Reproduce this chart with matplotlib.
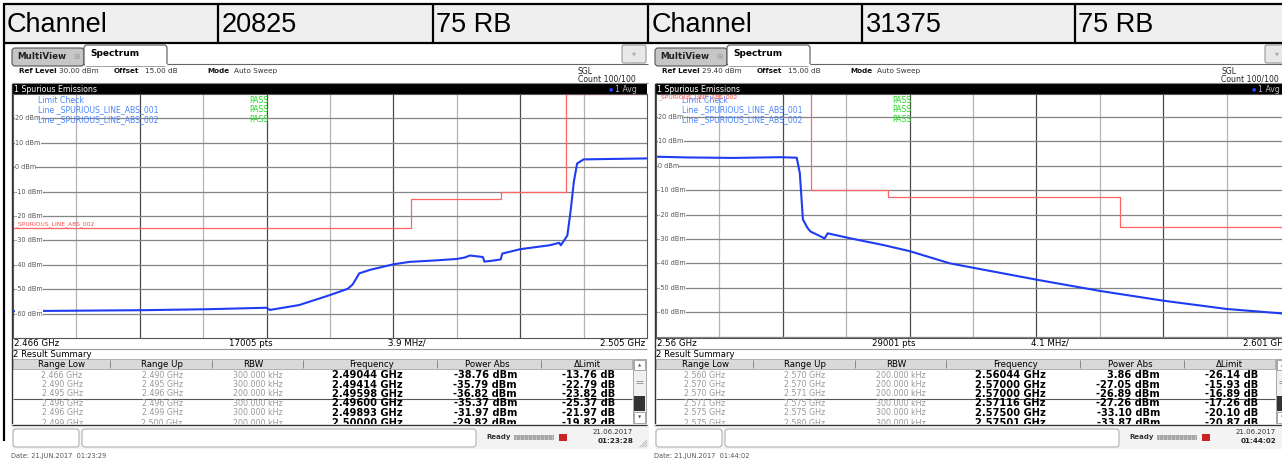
import matplotlib.pyplot as plt
from matplotlib.patches import Rectangle, FancyBboxPatch

W, H = 1282, 461
plt.rcParams['font.family'] = 'DejaVu Sans'

# report table row above the two screenshots
head_cells = ['Channel', '20825', '75 RB', 'Channel', '31375', '75 RB']
head_lines = [3.5, 218, 433, 648, 862, 1075]

# left screen (channel 20825)
left_ref = 30.0
left_span = (2.466, 2.505)
left_freq = [2.4660, 2.4700, 2.4740, 2.4780, 2.4816, 2.4818, 2.4836, 2.4855, 2.4866, 2.4869,
             2.4873, 2.4880, 2.4894, 2.4904, 2.4920, 2.4933, 2.4938, 2.4941, 2.4949, 2.4950,
             2.4955, 2.4960, 2.4961, 2.4972, 2.4990, 2.4996, 2.4997, 2.4999, 2.5001, 2.5003,
             2.5005, 2.5007, 2.5011, 2.5030, 2.5050]
left_level = [-59.0, -58.8, -58.6, -58.2, -57.6, -58.5, -56.5, -52.4, -49.8, -48.0,
              -43.5, -42.0, -39.8, -38.8, -38.2, -37.6, -37.0, -36.2, -36.8, -38.7,
              -38.3, -37.8, -35.4, -33.6, -32.0, -31.0, -32.0, -30.0, -28.0, -18.0,
              -6.0, 1.5, 3.2, 3.4, 3.6]
left_lim_f = [2.466, 2.4905, 2.4905, 2.496, 2.496, 2.500, 2.500, 2.505]
left_lim_v = [-25, -25, -13, -13, -10, -10, 29.8, 29.8]
left_lo = [2.466, 2.490, 2.495, 2.496, 2.496, 2.499]
left_up = [2.490, 2.495, 2.496, 2.496, 2.499, 2.500]
left_rbw = [300, 300, 200, 300, 300, 200]
left_pk = [2.49044, 2.49414, 2.49598, 2.49600, 2.49893, 2.50000]
left_pwr = [-38.76, -35.79, -36.82, -35.37, -31.97, -29.82]
left_dlim = [-13.76, -22.79, -23.82, -25.37, -21.97, -19.82]

# right screen (channel 31375)
right_ref = 29.4
right_span = (2.560, 2.601)
right_freq = [2.5600, 2.5620, 2.5650, 2.5680, 2.5691, 2.5693, 2.5695, 2.5698, 2.5700, 2.5705,
              2.5709, 2.5711, 2.5726, 2.5747, 2.5764, 2.5790, 2.5810, 2.5847, 2.5887, 2.5928,
              2.5969, 2.6010]
right_level = [3.7, 3.4, 3.2, 3.5, 3.3, -3.0, -22.0, -25.5, -27.0, -28.5,
               -29.8, -27.7, -29.8, -32.5, -35.0, -40.0, -42.4, -46.8, -51.3, -55.3,
               -58.7, -60.8]
right_lim_f = [2.560, 2.570, 2.570, 2.575, 2.575, 2.590, 2.590, 2.601]
right_lim_v = [40, 40, -10, -10, -13, -13, -25, -25]
right_lo = [2.560, 2.570, 2.570, 2.571, 2.575, 2.575]
right_up = [2.570, 2.570, 2.571, 2.575, 2.575, 2.580]
right_rbw = [200, 200, 200, 300, 300, 300]
right_pk = [2.56044, 2.57000, 2.57000, 2.57116, 2.57500, 2.57501]
right_pwr = [3.86, -27.05, -26.89, -27.26, -33.10, -33.87]
right_dlim = [-26.14, -15.93, -16.89, -17.26, -20.10, -20.87]

col_names = ['Range Low', 'Range Up', 'RBW', 'Frequency', 'Power Abs', 'ΔLimit']
col_head_x = [62, 162, 253, 372, 487, 587]
col_sep_x = [110, 212, 303, 437, 541]
row_y = [375.3, 384.6, 393.9, 403.2, 412.5, 423.0]

fig = plt.figure(figsize=(W / 100, H / 100), dpi=100)
bg = fig.add_axes([0, 0, 1, 1], zorder=0)
fg = fig.add_axes([0, 0, 1, 1], zorder=5)
for a in (bg, fg):
    a.set_xlim(0, W)
    a.set_ylim(H, 0)
    a.axis('off')


def box(ax, x0, y0, x1, y1, fc, ec='none', lw=0.8, z=1, r=0):
    if r:
        p = FancyBboxPatch((x0, y0), x1 - x0, y1 - y0, boxstyle=f'round,pad=0,rounding_size={r}',
                           fc=fc, ec=ec, lw=lw, zorder=z)
    else:
        p = Rectangle((x0, y0), x1 - x0, y1 - y0, fc=fc, ec=ec, lw=lw, zorder=z)
    ax.add_patch(p)


def txt(ax, x, y, s, size, color='black', weight='normal', ha='left', z=3, **kw):
    ax.text(x, y, s, fontsize=size, color=color, fontweight=weight, ha=ha, va='center',
            zorder=z, **kw)


def hline(ax, x0, x1, y, color, lw=0.8, z=2):
    ax.plot([x0, x1], [y, y], color=color, lw=lw, zorder=z, solid_capstyle='butt')


def vline(ax, x, y0, y1, color, lw=0.8, z=2):
    ax.plot([x, x], [y0, y1], color=color, lw=lw, zorder=z, solid_capstyle='butt')


# top table row
box(bg, 3.5, 4.5, W, 43, '#efefef')
hline(bg, 3, W, 4.5, 'black', 1.6)
hline(bg, 3, W, 43, 'black', 1.6)
for x in head_lines:
    vline(bg, x, 4, 43.5, 'black', 1.6)
vline(bg, 3.5, 43, 441, 'black', 1.6)
for x, s in zip(head_lines, head_cells):
    txt(bg, x + 3.5, 24.5, s, 19.5, family='Liberation Sans')


def panel(ox, ref, span, freq, level, lim_f, lim_v, pts, div, lo, up, rbw, pk, pwr, dlim,
          stamp, clock, printed):
    f0, f1 = span
    # tabs
    box(bg, ox + 12, 48, ox + 84, 66, '#c6c6c6', '#555555', 0.8, r=3)
    txt(bg, ox + 17, 56.5, 'MultiView', 6.3, '#222222', 'bold')
    txt(bg, ox + 73, 56.5, '⊞', 5.5, '#a0a0a0')
    box(bg, ox + 84, 45, ox + 167, 66, 'white', '#555555', 0.8, r=3)
    hline(bg, ox + 84.5, ox + 166.5, 65.5, 'white', 1.5, z=3)
    txt(bg, ox + 90, 54, 'Spectrum', 6.5, 'black', 'bold', z=4)
    hline(bg, ox + 167, ox + 648, 64.5, '#666666')
    box(bg, ox + 622, 45, ox + 646, 63, '#e8e8e8', '#9a9a9a', 0.8, r=2)
    txt(bg, ox + 634, 54, '▼', 3.8, '#aaaaaa', ha='center')
    # info row
    txt(bg, ox + 19, 71, 'Ref Level', 5.2, '#111111', 'bold')
    txt(bg, ox + 59, 71, f'{ref:.2f} dBm', 5.2, '#333333')
    txt(bg, ox + 114, 71, 'Offset', 5.2, '#111111', 'bold')
    txt(bg, ox + 145, 71, '15.00 dB', 5.2, '#333333')
    txt(bg, ox + 207, 71, 'Mode', 5.2, '#111111', 'bold')
    txt(bg, ox + 234, 71, 'Auto Sweep', 5.2, '#333333')
    txt(bg, ox + 578, 71, 'SGL', 5.6, '#222222')
    txt(bg, ox + 578, 79.5, 'Count 100/100', 5.6, '#222222')
    hline(bg, ox + 12, ox + 648, 83.2, '#888888')
    # black title bar
    box(bg, ox + 12, 84, ox + 647, 93.6, 'black')
    txt(bg, ox + 14, 89, '1 Spurious Emissions', 5.6, 'white')
    txt(bg, ox + 611, 89, '●', 3.5, '#2244ff', ha='center')
    txt(bg, ox + 615, 89, '1 Avg', 5.6, '#bbbbbb')
    vline(bg, ox + 12, 84, 426, '#333333', 1.0)

    # spectrum plot
    ax = fig.add_axes([(ox + 13) / W, (H - 338) / H, 634 / W, 244 / H], zorder=2)
    ax.set_xlim(f0, f1)
    ax.set_ylim(ref - 100, ref)
    ax.set_xticks([])
    ax.set_yticks([])
    for i in range(1, 10):
        ax.axvline(f0 + i * (f1 - f0) / 10, color='#b4b4b4' if i % 2 else '#4a4a4a', lw=0.9)
    grid_lv = [v for v in range(20, -80, -10) if v > ref - 99.5]
    for v in grid_lv:
        ax.axhline(v, color='#858585', lw=0.9)
    ax.plot(lim_f, lim_v, color='#ff6464', lw=0.9)
    ax.plot(freq, level, color='#1e3cf2', lw=1.5)
    for s in ax.spines.values():
        s.set_color('#555555')
        s.set_linewidth(0.8)

    def ypx(v):
        return 94 + (ref - v) / 100 * 244

    for v in grid_lv:
        if v >= -60:
            txt(fg, ox + 15, ypx(v), f'{v} dBm', 4.7, '#555555',
                bbox=dict(fc='white', ec='none', pad=0.15))
    # limit check legend
    for k, s in enumerate(['Limit Check', 'Line _SPURIOUS_LINE_ABS_001',
                           'Line _SPURIOUS_LINE_ABS_002']):
        txt(fg, ox + 38.5, 100 + 9.8 * k, s, 5.6, '#4a86ff')
        txt(fg, ox + 249, 100 + 9.8 * k, 'PASS', 5.6, '#22dd22')
    red_y = ypx(-25) - 4.5 if lim_v[0] < ref else 97
    txt(fg, ox + 15.5, red_y, '_SPURIOUS_LINE_ABS_002', 4.3, '#ff4a4a')

    # frequency axis bar
    start = f'{f0:.3f}'.rstrip('0') if f'{f0:.3f}'.endswith('0') else f'{f0:.3f}'
    txt(bg, ox + 14, 343, f'{start} GHz', 6.2)
    txt(bg, ox + 229, 343, f'{pts} pts', 6.2)
    txt(bg, ox + 388, 343, f'{div} MHz/', 6.2)
    txt(bg, ox + 645, 343, f'{f1:.3f} GHz', 6.2, ha='right')
    hline(bg, ox + 12, ox + 647, 348.5, '#999999')

    # result summary table
    txt(bg, ox + 13, 354.5, '2 Result Summary', 6.1)
    box(bg, ox + 13, 359, ox + 632, 369, '#d9d9d9', '#a8a8a8', 0.6)
    for x in col_sep_x:
        vline(bg, ox + x, 360, 368, '#8a8a8a', 0.7)
    for x, s in zip(col_head_x, col_names):
        txt(bg, ox + x, 364, s, 6.2, ha='center')
    for k, y in enumerate(row_y):
        txt(bg, ox + 62, y, f'{lo[k]:.3f} GHz', 5.7, '#999999', ha='center')
        txt(bg, ox + 162, y, f'{up[k]:.3f} GHz', 5.7, '#999999', ha='center')
        txt(bg, ox + 258, y, f'{rbw[k]:.3f} kHz', 5.7, '#999999', ha='center')
        txt(bg, ox + 367, y, f'{pk[k]:.5f} GHz', 7.1, 'black', 'bold', ha='center')
        txt(bg, ox + 517, y, f'{pwr[k]:.2f} dBm', 7.1, 'black', 'bold', ha='right')
        txt(bg, ox + 615, y, f'{dlim[k]:.2f} dB', 7.1, 'black', 'bold', ha='right')
    hline(bg, ox + 13, ox + 632, 398.6, '#555555', 0.8)
    # scrollbar
    box(bg, ox + 633, 359, ox + 646, 424.5, '#f0f0f0', '#999999', 0.6)
    box(bg, ox + 634, 360, ox + 645, 370, 'white', '#999999', 0.6)
    txt(bg, ox + 639.5, 365, '▲', 3.0, '#555555', ha='center')
    hline(bg, ox + 636, ox + 643, 381, '#999999', 0.7)
    hline(bg, ox + 636, ox + 643, 383, '#999999', 0.7)
    box(bg, ox + 634, 396, ox + 645, 411, '#333333')
    box(bg, ox + 634, 412, ox + 645, 423, 'white', '#999999', 0.6)
    txt(bg, ox + 639.5, 417.5, '▼', 3.0, '#555555', ha='center')

    # status bar (covers the clipped last row)
    box(bg, ox + 12, 424.3, ox + 649, 449, '#f3f3f3', z=4)
    hline(bg, ox + 12, ox + 647, 424.6, '#333333', 0.9, z=5)
    box(bg, ox + 13, 429, ox + 79, 447, 'white', '#a8a8a8', 0.7, z=5, r=3)
    box(bg, ox + 82, 429, ox + 476, 447, 'white', '#a8a8a8', 0.7, z=5, r=3)
    txt(bg, ox + 486, 437, 'Ready', 5.0, '#333333', 'bold', z=6)
    box(bg, ox + 514, 434.5, ox + 554, 439.5, '#a6a6a6', z=5)
    for x in range(516, 554, 4):
        vline(bg, ox + x, 434.5, 439.5, '#d0d0d0', 0.5, z=6)
    box(bg, ox + 559, 433.5, ox + 567, 440.5, '#cc2222', z=5)
    txt(bg, ox + 633, 431.5, stamp, 5.0, '#333333', z=6, ha='right')
    txt(bg, ox + 633, 440.5, clock, 5.2, '#222222', 'bold', z=6, ha='right')
    for d in range(3):
        bg.plot([ox + 640 + 2.5 * d, ox + 647], [447, 440 + 2.5 * d], color='#aaaaaa',
                lw=0.5, zorder=6)
    txt(bg, ox + 11, 456, f'Date: 21.JUN.2017  {printed}', 4.8, '#555555')


panel(0, left_ref, left_span, left_freq, left_level, left_lim_f, left_lim_v, 17005, '3.9',
      left_lo, left_up, left_rbw, left_pk, left_pwr, left_dlim, '21.06.2017', '01:23:28',
      '01:23:29')
panel(643, right_ref, right_span, right_freq, right_level, right_lim_f, right_lim_v, 29001, '4.1',
      right_lo, right_up, right_rbw, right_pk, right_pwr, right_dlim, '21.06.2017', '01:44:02',
      '01:44:02')

fig.savefig('out.png', dpi=100)
